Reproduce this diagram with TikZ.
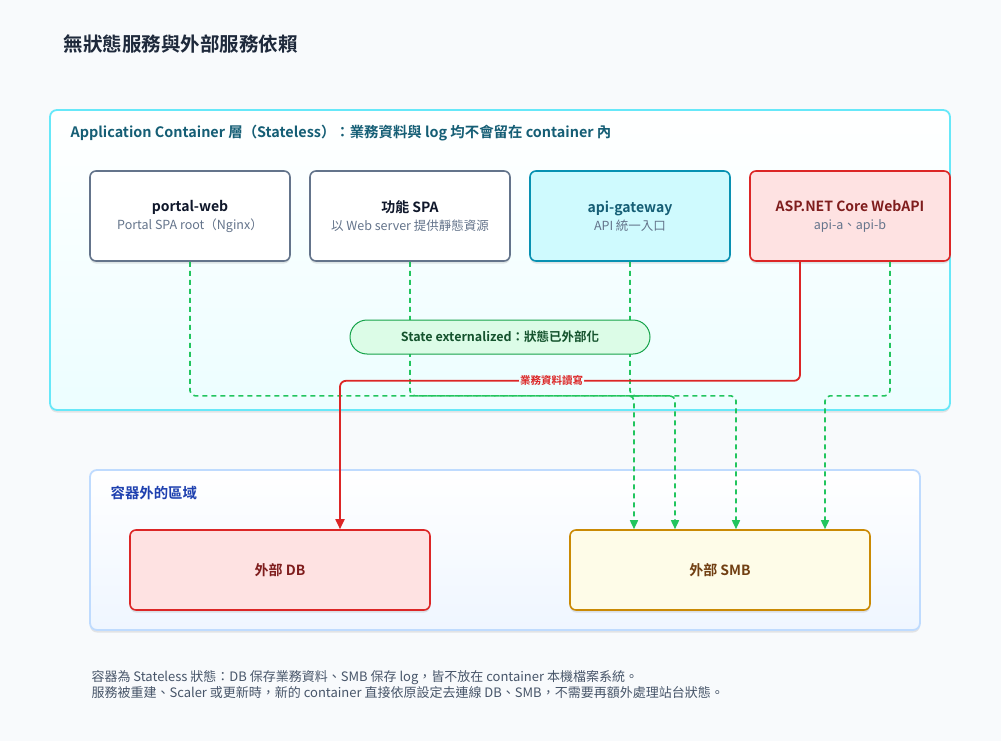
\documentclass[tikz,border=0pt]{standalone}
\usepackage{fontspec}
\setmainfont{Noto Sans CJK TC}[BoldFont={Noto Sans CJK TC Bold}]
\usetikzlibrary{positioning, arrows.meta, shadows}

\definecolor{pagebg}{HTML}{F8FAFC}
\definecolor{titleink}{HTML}{1E293B}
\definecolor{appline}{HTML}{67E8F9}
\definecolor{appfill}{HTML}{ECFEFF}
\definecolor{appink}{HTML}{155E75}
\definecolor{slateline}{HTML}{64748B}
\definecolor{darkink}{HTML}{0F172A}
\definecolor{subink}{HTML}{64748B}
\definecolor{gwfill}{HTML}{CFFAFE}
\definecolor{gwline}{HTML}{0891B2}
\definecolor{redfill}{HTML}{FEE2E2}
\definecolor{redline}{HTML}{DC2626}
\definecolor{redink}{HTML}{7F1D1D}
\definecolor{pillfill}{HTML}{DCFCE7}
\definecolor{pillline}{HTML}{16A34A}
\definecolor{pillink}{HTML}{14532D}
\definecolor{outline}{HTML}{BFDBFE}
\definecolor{outfill}{HTML}{EFF6FF}
\definecolor{outink}{HTML}{1E40AF}
\definecolor{smbfill}{HTML}{FEFCE8}
\definecolor{smbline}{HTML}{CA8A04}
\definecolor{smbink}{HTML}{713F12}
\definecolor{flowgreen}{HTML}{22C55E}
\definecolor{footink}{HTML}{475569}

\newcommand{\subtxt}[1]{{\fontsize{12.5}{15}\selectfont\mdseries\color{subink}#1}}

\begin{document}
\begin{tikzpicture}[x=1pt, y=-1pt,
    group/.style={draw, line width=1.8pt, rounded corners=7pt, inner sep=0pt,
      drop shadow={opacity=0.18, shadow xshift=0pt, shadow yshift=-2.5pt}},
    grouplbl/.style={anchor=west, font=\fontsize{14.4}{17}\selectfont\bfseries},
    svc/.style={draw, line width=1.6pt, rounded corners=6pt, minimum width=200pt,
      minimum height=90pt, align=center, fill=white, draw=slateline,
      font=\fontsize{14}{17}\selectfont, text=darkink,
      drop shadow={opacity=0.2, shadow xshift=0pt, shadow yshift=-2.5pt}},
    store/.style={svc, minimum width=300pt, minimum height=80pt},
    flow/.style={flowgreen, line width=1.6pt, dash pattern=on 5pt off 4pt,
      rounded corners=5pt, -{Triangle[length=9pt, width=8pt]}},
    rw/.style={redline, line width=1.8pt, rounded corners=6pt,
      -{Triangle[length=10pt, width=9pt]}}]

  \useasboundingbox[fill=pagebg] (0,0) rectangle (1001,741);

  \node[anchor=west, text=titleink, font=\fontsize{19.5}{23}\selectfont\bfseries]
    (title) at (60,44) {無狀態服務與外部服務依賴};

  % containers
  \node[group, draw=appline, top color=white, bottom color=appfill,
    minimum width=900pt, minimum height=300pt] (app) at (500,260) {};
  \node[grouplbl, text=appink] (applbl) at ([xshift=18pt, yshift=-24pt]app.north west)
    {Application Container 層（Stateless）：業務資料與 log 均不會留在 container 內};
  \node[group, draw=outline, top color=white, bottom color=outfill,
    minimum width=830pt, minimum height=160pt] (out) at (505,550) {};
  \node[grouplbl, text=outink] (outlbl) at ([xshift=18pt, yshift=-24pt]out.north west) {容器外的區域};

  % services
  \node[svc] (portal) at (190,216) {\textbf{portal-web}\\[1pt]\subtxt{Portal SPA root（Nginx）}};
  \node[svc] (spa) at (410,216) {\textbf{功能 SPA}\\[1pt]\subtxt{以 Web server 提供靜態資源}};
  \node[svc, fill=gwfill, draw=gwline, text=appink] (gw) at (630,216)
    {\textbf{api-gateway}\\[1pt]\subtxt{API 統一入口}};
  \node[svc, fill=redfill, draw=redline, text=redink] (webapi) at (850,216)
    {\textbf{ASP.NET Core WebAPI}\\[1pt]\subtxt{api-a、api-b}};

  % external stores
  \node[store, fill=redfill, draw=redline, text=redink] (db) at (280,570) {\textbf{外部 DB}};
  \node[store, fill=smbfill, draw=smbline, text=smbink] (smb) at (720,570) {\textbf{外部 SMB}};

  % connectors
  \draw[flow] (portal.south) -- ++(0,134) -| ([xshift=-45pt]smb.north);
  \draw[flow] (spa.south) -- ++(0,134) -| ([xshift=16pt]smb.north);
  \draw[flow] (gw.south) -- ++(0,134) -| ([xshift=-86pt]smb.north);
  \draw[flow] ([xshift=40pt]webapi.south) -- ++(0,134) -| ([xshift=105pt]smb.north);
  \draw[rw] ([xshift=-50pt]webapi.south) -- ++(0,119)
    -| node[pos=0.27, fill=appfill, inner sep=1pt, text=redline,
      font=\fontsize{10.5}{12}\selectfont\bfseries] (rwlbl) {業務資料讀寫}
    ([xshift=60pt]db.north);

  \node[draw=pillline, fill=pillfill, line width=1pt, rounded corners=17pt,
    minimum width=300pt, minimum height=34pt, text=pillink,
    font=\fontsize{12.5}{14}\selectfont\bfseries] (pill) at (500,337)
    {State externalized：狀態已外部化};

  \node[anchor=north west, align=left, text=footink,
    font=\fontsize{13}{16}\selectfont] (foot) at (88,667)
    {容器為 Stateless 狀態：DB 保存業務資料、SMB 保存 log，皆不放在 container 本機檔案系統。\\
     服務被重建、Scaler 或更新時，新的 container 直接依原設定去連線 DB、SMB，不需要再額外處理站台狀態。};
\end{tikzpicture}
\end{document}
